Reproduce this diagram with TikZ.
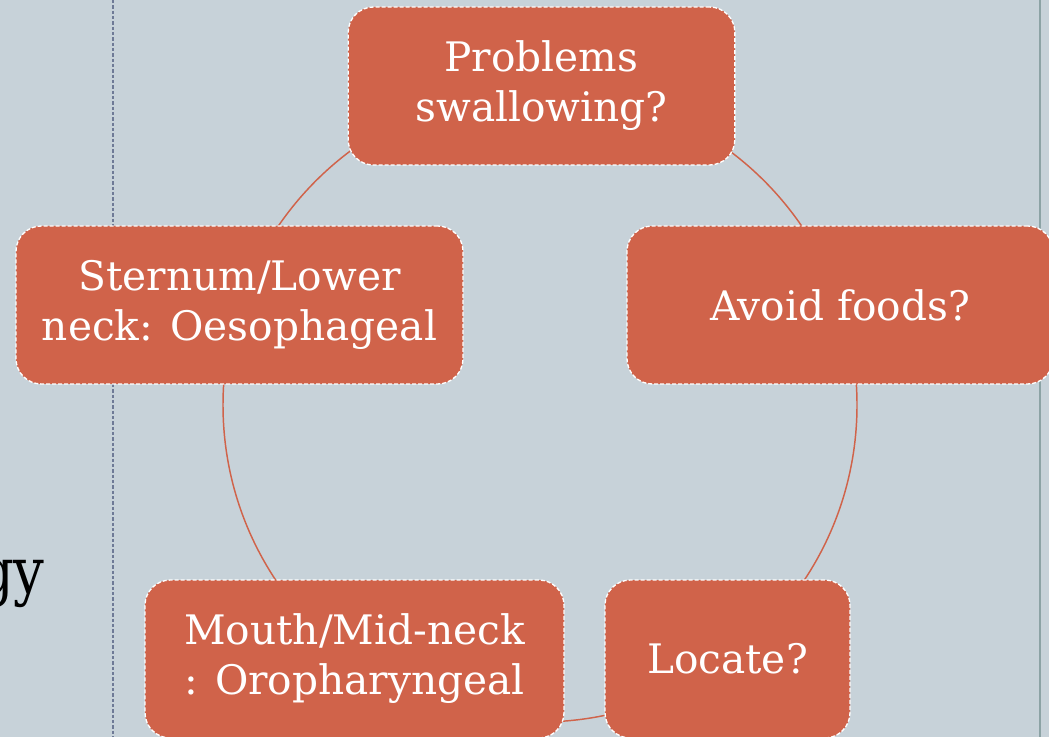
\documentclass[tikz,border=0pt]{standalone}
\usepackage{fontspec}
\setmainfont{DejaVu Serif}
\definecolor{bgc}{RGB}{199,210,217}
\definecolor{boxc}{RGB}{208,99,74}
\definecolor{sepc}{RGB}{110,122,150}
\definecolor{rulec}{RGB}{140,163,165}
\begin{document}
\begin{tikzpicture}[x=0.75pt,y=-0.75pt,
  stepbox/.style={rectangle, rounded corners=19pt, fill=boxc, draw=white,
    line width=1pt, dash pattern=on 3pt off 1.5pt, text=white, align=center,
    font=\fontsize{30.5}{37.5}\selectfont, minimum height=118.5pt, inner sep=0pt},
  link/.style={draw=boxc, line width=1.1pt}]
\useasboundingbox (0,0) rectangle (1049,737);
\clip (0,0) rectangle (1049,737);
\fill[bgc] (0,0) rectangle (1049,737);
% page rules
\draw[sepc, line width=0.9pt, dash pattern=on 2.5pt off 1.5pt] (113,0) -- (113,737);
\draw[rulec, line width=1.2pt] (1040,0) -- (1040,737);
\node[anchor=base east, font=\fontsize{48}{56}\selectfont, text=black, inner sep=0pt] (gy) at (45,593) {\scalebox{0.85}[1]{gy}};
% cycle
\coordinate (c) at (540,405);
\draw[link] (c) circle[radius=237.75pt];
\node[stepbox, minimum width=290pt] (p) at (541.5,86) {Problems\\swallowing?};
\node[stepbox, minimum width=319.5pt] (a) at (840,305) {Avoid foods?};
\node[stepbox, minimum width=183.75pt] (l) at (727.5,659) {Locate?};
\node[stepbox, minimum width=314.25pt] (m) at (354.5,659) {Mouth/Mid-neck\\: Oropharyngeal};
\node[stepbox, minimum width=335.25pt] (s) at (239.5,305) {Sternum/Lower\\neck: Oesophageal};
\end{tikzpicture}
\end{document}
